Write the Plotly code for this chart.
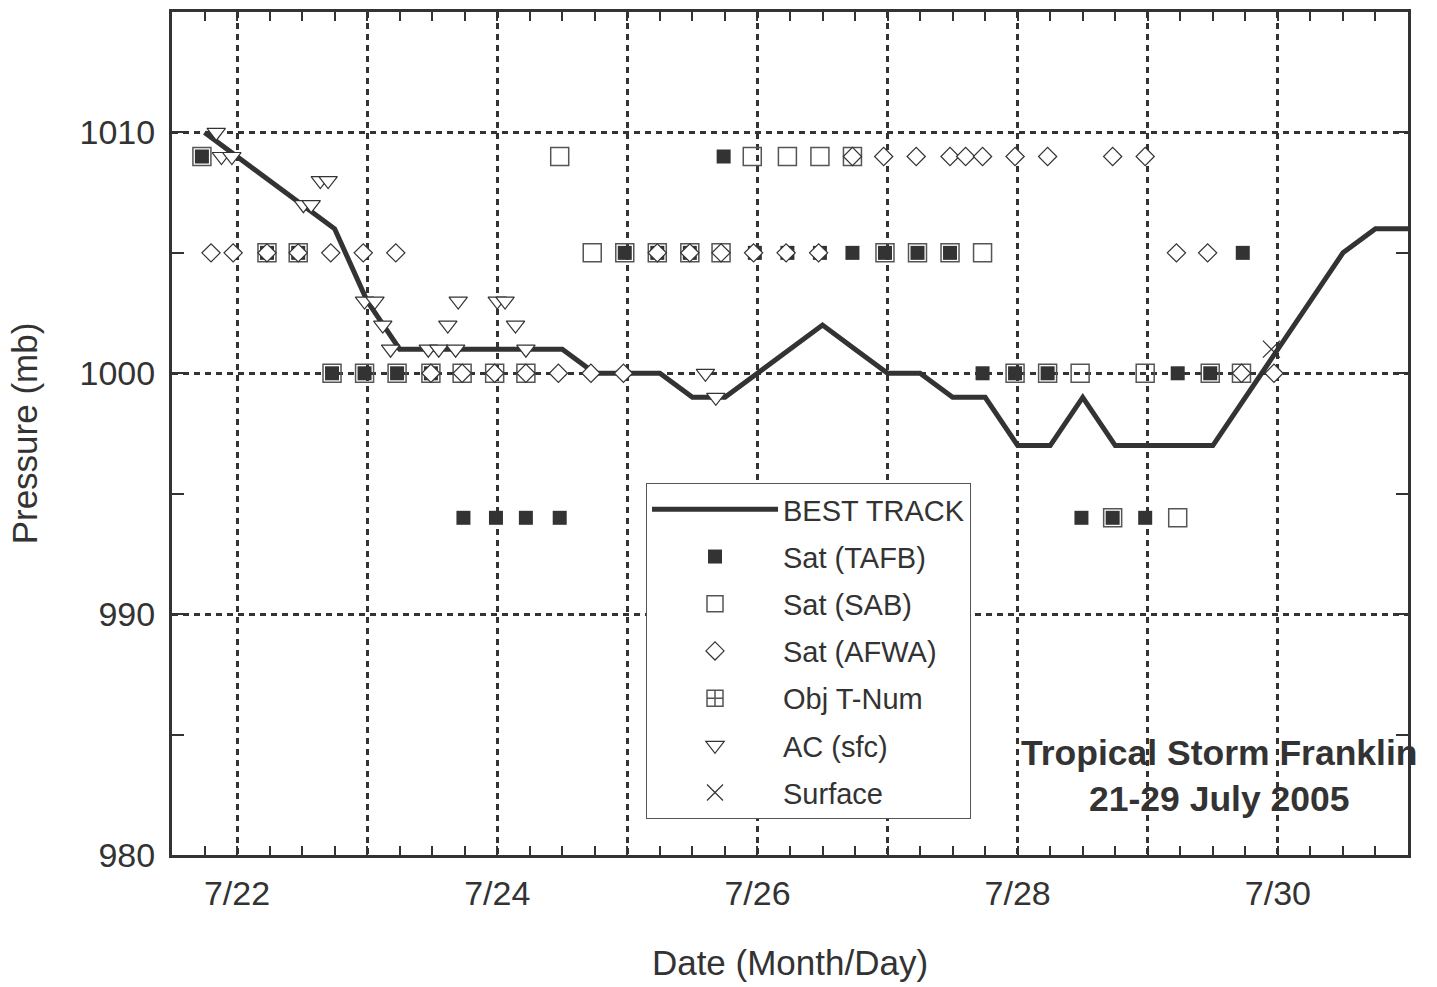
import plotly.graph_objects as go

# ---------------- data ----------------
best_x = [21.75, 22.00, 22.25, 22.50, 22.75, 23.00, 23.25, 23.50, 23.75, 24.00,
          24.25, 24.50, 24.75, 25.00, 25.25, 25.50, 25.75, 26.00, 26.25, 26.50,
          26.75, 27.00, 27.25, 27.50, 27.75, 28.00, 28.25, 28.50, 28.75, 29.00,
          29.25, 29.50, 29.75, 30.00, 30.25, 30.50, 30.75, 31.00]
best_p = [1010, 1009, 1008, 1007, 1006, 1003, 1001, 1001, 1001, 1001,
          1001, 1001, 1000, 1000, 1000, 999, 999, 1000, 1001, 1002,
          1001, 1000, 1000, 999, 999, 997, 997, 999, 997, 997,
          997, 997, 999, 1001, 1003, 1005, 1006, 1006]

tafb_x = [21.73, 22.23, 22.47, 22.73, 22.98, 23.23, 23.49, 23.74, 23.99, 24.22,
          24.48, 24.98, 25.23, 25.48, 25.74, 25.98, 26.23, 26.48, 26.73, 26.98,
          27.23, 27.48, 27.73, 27.98, 28.23, 28.49, 28.73, 28.98, 29.23, 29.48,
          29.73]
tafb_p = [1009, 1005, 1005, 1000, 1000, 1000, 1000, 994, 994, 994,
          994, 1005, 1005, 1005, 1009, 1005, 1005, 1005, 1005, 1005,
          1005, 1005, 1000, 1000, 1000, 994, 994, 994, 1000, 1000,
          1005]

sab_x = [21.73, 22.23, 22.47, 22.73, 22.98, 23.23, 23.49, 24.48, 24.73, 24.98,
         25.23, 25.48, 25.96, 26.23, 26.48, 26.98, 27.23, 27.48, 27.73, 27.98,
         28.23, 28.48, 28.73, 28.98, 29.23, 29.48]
sab_p = [1009, 1005, 1005, 1000, 1000, 1000, 1000, 1009, 1005, 1005,
         1005, 1005, 1009, 1009, 1009, 1005, 1005, 1005, 1005, 1000,
         1000, 1000, 994, 1000, 994, 1000]

afwa_x = [21.80, 21.97, 22.23, 22.47, 22.72, 22.97, 23.22,
          23.49, 23.73, 23.98, 24.22, 24.47, 24.72, 24.97,
          25.23, 25.48, 25.72, 25.97, 26.22, 26.47,
          26.73, 26.97, 27.22, 27.48, 27.60, 27.73, 27.98, 28.23, 28.73, 28.98,
          29.22, 29.46, 29.72, 29.97]
afwa_p = [1005, 1005, 1005, 1005, 1005, 1005, 1005,
          1000, 1000, 1000, 1000, 1000, 1000, 1000,
          1005, 1005, 1005, 1005, 1005, 1005,
          1009, 1009, 1009, 1009, 1009, 1009, 1009, 1009, 1009, 1009,
          1005, 1005, 1000, 1000]

objt_x = [23.73, 23.98, 24.22, 25.72, 26.73, 29.72]
objt_p = [1000, 1000, 1000, 1005, 1009, 1000]

ac_x = [21.84, 21.88, 21.96, 22.51, 22.57, 22.64, 22.70, 22.98, 23.06, 23.12,
        23.18, 23.47, 23.55, 23.68, 23.62, 23.70, 24.00, 24.06, 24.14, 24.22,
        25.60, 25.68]
ac_p = [1010, 1009, 1009, 1007, 1007, 1008, 1008, 1003, 1003, 1002,
        1001, 1001, 1001, 1001, 1002, 1003, 1003, 1003, 1002, 1001,
        1000, 999]

sfc_x = [29.95]
sfc_p = [1001]

day_ticks = [22, 23, 24, 25, 26, 27, 28, 29, 30, 31]
day_labels = ["7/22", "", "7/24", "", "7/26", "", "7/28", "", "7/30", ""]
p_ticks = [980, 990, 1000, 1010]
p_labels = ["980", "990", "1000", "1010"]

INK = "#333333"
FONT = "Liberation Sans, Arial, Helvetica, sans-serif"

fig = go.Figure()

fig.add_trace(go.Scatter(x=best_x, y=best_p, mode="lines", name="BEST TRACK",
                         line=dict(color=INK, width=5), legendrank=1, legendgroup="a"))
fig.add_trace(go.Scatter(x=tafb_x, y=tafb_p, mode="markers", name="Sat (TAFB)",
                         marker=dict(symbol="square", size=14, color=INK,
                                     line=dict(width=0)),
                         legendrank=2, legendgroup="b"))
fig.add_trace(go.Scatter(x=sab_x, y=sab_p, mode="markers", name="Sat (SAB)",
                         marker=dict(symbol="square-open", size=18, color="#555555",
                                     line=dict(width=1.5)),
                         legendrank=3, legendgroup="c"))
fig.add_trace(go.Scatter(x=objt_x, y=objt_p, mode="markers", name="Obj T-Num",
                         marker=dict(symbol="square-cross-open", size=18, color="#555555",
                                     line=dict(width=1.5)),
                         legendrank=5, legendgroup="e"))
fig.add_trace(go.Scatter(x=afwa_x, y=afwa_p, mode="markers", name="Sat (AFWA)",
                         marker=dict(symbol="diamond", size=14, color="white",
                                     line=dict(color=INK, width=1.2)),
                         legendrank=4, legendgroup="d"))
fig.add_trace(go.Scatter(x=ac_x, y=ac_p, mode="markers", name="AC (sfc)",
                         marker=dict(symbol="triangle-down", size=16, color="white",
                                     line=dict(color=INK, width=1.2)),
                         legendrank=6, legendgroup="f"))
fig.add_trace(go.Scatter(x=sfc_x, y=sfc_p, mode="markers", name="Surface",
                         marker=dict(symbol="x-thin-open", size=17, color=INK,
                                     line=dict(color=INK, width=1.2)),
                         legendrank=7, legendgroup="g"))

fig.add_annotation(x=29.55, y=983.3, xref="x", yref="y",
                   text="<b>Tropical Storm Franklin</b><br><b>21-29 July 2005</b>",
                   showarrow=False, font=dict(family=FONT, size=35.5, color=INK),
                   align="center", xanchor="center", yanchor="middle")

axis_common = dict(showline=True, linecolor=INK, linewidth=3, mirror="ticks",
                   ticks="inside", tickcolor=INK, tickwidth=2,
                   showgrid=True, gridcolor=INK, gridwidth=2.5, griddash="6px,5px",
                   zeroline=False, tickfont=dict(family=FONT, size=34, color=INK))

fig.update_xaxes(range=[21.5, 31.0], tickmode="array", tickvals=day_ticks,
                 ticktext=day_labels, ticklen=9, ticklabelstandoff=6,
                 minor=dict(tick0=21.5, dtick=0.25, ticks="inside", ticklen=9,
                            tickwidth=2, tickcolor=INK, showgrid=False),
                 title=dict(text="Date (Month/Day)", font=dict(family=FONT, size=35, color=INK),
                            standoff=40),
                 **axis_common)
fig.update_yaxes(range=[980, 1015], tickmode="array", tickvals=p_ticks,
                 ticktext=p_labels, ticklen=12, ticklabelstandoff=7,
                 minor=dict(tick0=980, dtick=5, ticks="inside", ticklen=12,
                            tickwidth=2, tickcolor=INK, showgrid=False),
                 title=dict(text="Pressure (mb)", font=dict(family=FONT, size=35, color=INK),
                            standoff=32),
                 **axis_common)

fig.update_layout(
    width=1437, height=987,
    margin=dict(l=172, r=29, t=12, b=132, autoexpand=False),
    paper_bgcolor="white", plot_bgcolor="white",
    font=dict(family=FONT, color=INK),
    legend=dict(x=0.3835, y=0.4413, xanchor="left", yanchor="top",
                bgcolor="white", bordercolor="#555555", borderwidth=1,
                font=dict(family=FONT, size=29, color=INK),
                itemwidth=126, tracegroupgap=6.5, traceorder="grouped"),
)

fig.write_html("out.html", config={"displayModeBar": False},
               post_script="document.body.style.margin='0px';")
